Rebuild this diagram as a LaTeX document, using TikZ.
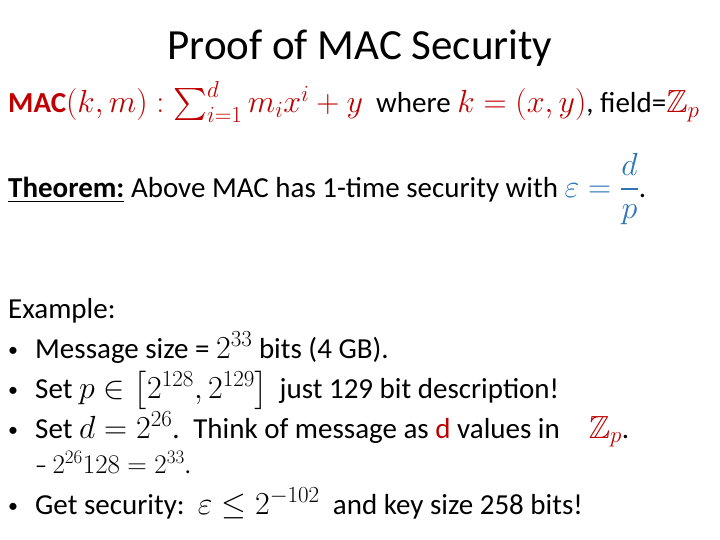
\documentclass[tikz,border=0pt]{standalone}
\usepackage{fix-cm}
\usepackage{amsmath,amssymb}
\usepackage{fontspec}
\setmainfont{Carlito}
\DeclareMathSizes{29}{32}{23}{18}
\DeclareMathSizes{24}{27}{19}{15}
\definecolor{dred}{RGB}{192,0,0}
\definecolor{mblue}{RGB}{46,117,182}
\newcommand{\bul}{\makebox[27pt][l]{\fontsize{20}{20}\selectfont\raisebox{2pt}{•}}}
\begin{document}
\begin{tikzpicture}[x=1pt,y=1pt,
  body/.style={anchor=base west,inner sep=0pt,font=\fontsize{29}{34}\selectfont},
  ttl/.style={anchor=base,inner sep=0pt,font=\fontsize{43}{48}\selectfont}]
\useasboundingbox[fill=white] (0,0) rectangle (720,-540);
\node[ttl] (title) at (360,-60) {Proof of MAC Security};
\node[body] (mac) at (8,-113) {\textcolor{dred}{\textbf{MAC}$(k,m):\sum_{i=1}^{d} m_i x^i + y$}\ \ where \textcolor{dred}{$k=(x,y)$},\ field=\textcolor{dred}{$\mathbb{Z}_p$}};
\node[body] (thm) at (8,-197) {\underline{\textbf{Theorem:}} Above MAC has 1-time security with \textcolor{mblue}{$\varepsilon=\dfrac{d}{p}$}.};
\node[body] (ex) at (8,-318) {Example:};
\node[body] (b1) at (8,-358) {\bul Message size = $2^{33}$ bits (4 GB).};
\node[body] (b2) at (8,-398) {\bul Set $p\in\left[2^{128},2^{129}\right]$\, just 129 bit description!};
\node[body] (b3) at (8,-438) {\bul Set $d=2^{26}$.\, Think of message as \textcolor{dred}{d} values in\quad \textcolor{dred}{$\mathbb{Z}_p$}.};
\node[body,font=\fontsize{24}{28}\selectfont] (s1) at (35,-473) {–\ $2^{26}128=2^{33}$.};
\node[body] (b4) at (8,-514) {\bul Get security:\ \ $\varepsilon\le 2^{-102}$\ \ and key size 258 bits!};
\end{tikzpicture}
\end{document}
